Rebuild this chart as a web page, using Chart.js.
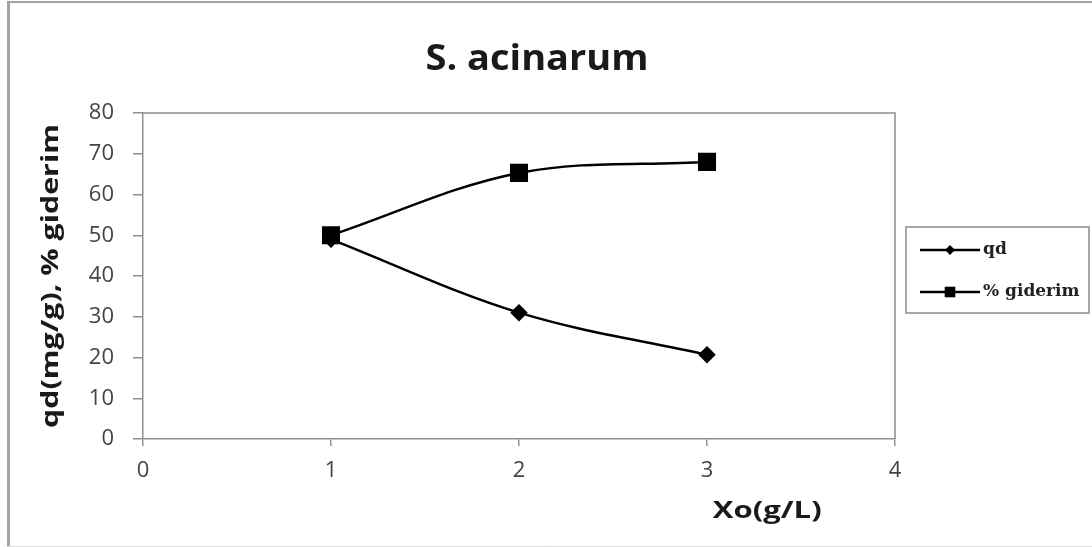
<!DOCTYPE html>
<html>
<head>
<meta charset="utf-8">
<script src="https://cdn.jsdelivr.net/npm/chart.js@4.4.0/dist/chart.umd.min.js"></script>
<style>
	html, body { margin: 0; padding: 0; background: #fff; }
	#wrap { width: 1092px; height: 547px; }
</style>
</head>
<body>
<div id="wrap"><canvas id="mycanvas" width="1092" height="547"></canvas></div>
<script>
// Xo (g/L) and the two measured series
var xo = [1, 2, 3];
var qd = [49, 31, 20.7];
var giderim = [50, 65.3, 68];
var seriesNames = ['qd', '% giderim'];
var xTicks = [0, 1, 2, 3, 4];
var yTicks = [0, 10, 20, 30, 40, 50, 60, 70, 80];

var chartTitle = 'S. acinarum';
var xTitle = 'Xo(g/L)';
var yTitle = 'qd(mg/g), % giderim';

function toPoints(vals) {
	var pts = [];
	for (var i in vals) {
		pts.push({ x: xo[i], y: vals[i] });
	}
	return pts;
}

// text squeezed/stretched to a given run length, centred on (x, y)
function wideText(c, txt, x, y, len, rot) {
	c.save();
	c.translate(x, y);
	if (rot) c.rotate(rot);
	var w = c.measureText(txt).width;
	c.scale(len / w, 1);
	c.textAlign = 'center';
	c.textBaseline = 'middle';
	c.fillText(txt, 0, 0);
	c.restore();
}

// frame, plot box, titles and the boxed legend
var decor = {
	id: 'decor',
	beforeDraw: function(chart) {
		var c = chart.ctx;
		c.save();
		c.fillStyle = '#fff';
		c.fillRect(0, 0, chart.width, chart.height);
		c.strokeStyle = '#a3a3a3';
		c.lineWidth = 3;
		c.beginPath(); c.moveTo(8.5, 1); c.lineTo(8.5, 547); c.stroke();
		c.lineWidth = 2;
		c.beginPath(); c.moveTo(7, 2); c.lineTo(1092, 2); c.stroke();
		c.strokeStyle = '#dedede';
		c.lineWidth = 1;
		c.beginPath(); c.moveTo(7, 546.5); c.lineTo(1092, 546.5); c.stroke();
		c.restore();
	},
	beforeDatasetsDraw: function(chart) {
		var a = chart.chartArea;
		var c = chart.ctx;
		c.save();
		c.strokeStyle = '#8f8f8f';
		c.lineWidth = 1.5;
		c.beginPath();
		c.moveTo(a.left, a.top);
		c.lineTo(a.right, a.top);
		c.lineTo(a.right, a.bottom);
		c.stroke();
		c.restore();
	},
	afterDraw: function(chart) {
		var a = chart.chartArea;
		var c = chart.ctx;
		c.save();
		c.fillStyle = '#1a1a1a';
		c.font = 'bold 35px "Open Sans"';
		wideText(c, chartTitle, 537, 60, 223, 0);
		c.font = 'bold 24px "Open Sans"';
		wideText(c, xTitle, a.left + (a.right - a.left) * 0.83, 511, 109, 0);
		wideText(c, yTitle, 51, (a.top + a.bottom) / 2, 304, -Math.PI / 2);

		// legend box
		c.fillStyle = '#fff';
		c.fillRect(906, 227, 183, 86);
		c.strokeStyle = '#8a8a8a';
		c.lineWidth = 1.5;
		c.strokeRect(906, 227, 183, 86);
		var ds = chart.data.datasets;
		for (var i = 0; i < ds.length; i++) {
			var y = 250 + i * 42;
			c.strokeStyle = '#000';
			c.lineWidth = 2.5;
			c.beginPath(); c.moveTo(920, y); c.lineTo(980, y); c.stroke();
			c.fillStyle = '#000';
			Chart.helpers.drawPoint(c, {
				pointStyle: ds[i].pointStyle,
				radius: ds[i].pointStyle == 'rect' ? 7.5 : 5,
				rotation: 0,
				borderWidth: 0
			}, 950, y);
			c.fillStyle = '#222';
			c.textAlign = 'left';
			c.textBaseline = 'middle';
			c.font = 'bold 17px "DejaVu Serif"';
			c.fillText(ds[i].label, 983, y);
		}
		c.restore();
	}
};

var chartdata = {
	datasets: [
		{
			label: seriesNames[0],
			data: toPoints(qd),
			borderColor: '#000',
			backgroundColor: '#000',
			borderWidth: 2.5,
			pointStyle: 'rectRot',
			pointRadius: 7,
			tension: 0.35
		},
		{
			label: seriesNames[1],
			data: toPoints(giderim),
			borderColor: '#000',
			backgroundColor: '#000',
			borderWidth: 2.5,
			pointStyle: 'rect',
			pointRadius: 11,
			tension: 0.35
		}
	]
};

var ctx = document.getElementById('mycanvas');

var lineGraph = new Chart(ctx, {
	type: 'line',
	data: chartdata,
	plugins: [decor],
	options: {
		responsive: false,
		animation: false,
		devicePixelRatio: 1,
		layout: { padding: { top: 113, right: 197, left: 0, bottom: 0 } },
		plugins: {
			legend: { display: false },
			title: { display: false },
			tooltip: { enabled: false }
		},
		scales: {
			x: {
				type: 'linear',
				min: xTicks[0],
				max: xTicks[xTicks.length - 1],
				afterFit: function(s) { s.height = 108; },
				ticks: { stepSize: 1, padding: 12, color: '#444', font: { family: 'Open Sans', size: 22 } },
				grid: { drawOnChartArea: false, drawTicks: true, tickLength: 7, color: '#8f8f8f', lineWidth: 1.5 },
				border: { color: '#8f8f8f', width: 1.5 }
			},
			y: {
				min: yTicks[0],
				max: yTicks[yTicks.length - 1],
				afterFit: function(s) { s.width = 143; },
				ticks: { stepSize: 10, padding: 19, color: '#444', font: { family: 'Open Sans', size: 22 } },
				grid: { drawOnChartArea: false, drawTicks: true, tickLength: 10, color: '#8f8f8f', lineWidth: 1.5 },
				border: { color: '#8f8f8f', width: 1.5 }
			}
		}
	}
});
</script>
</body>
</html>
